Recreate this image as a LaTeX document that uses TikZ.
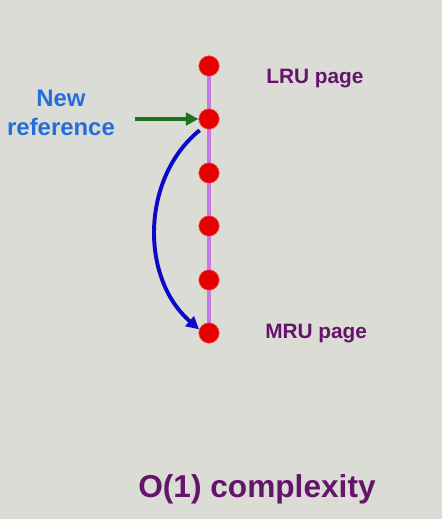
\documentclass[tikz,border=0pt]{standalone}
\usepackage{fontspec}
\setmainfont{Liberation Sans}
\usepackage{tikz}
\usetikzlibrary{arrows.meta, backgrounds}
\definecolor{SlideGray}{RGB}{220,220,215}
\definecolor{PageRed}{RGB}{230,0,0}
\definecolor{ListViolet}{RGB}{195,125,225}
\definecolor{RefBlue}{RGB}{35,110,220}
\definecolor{TagPurple}{RGB}{100,20,105}
\definecolor{MoveGreen}{RGB}{30,115,30}
\definecolor{MoveBlue}{RGB}{10,10,200}

\begin{document}
\begin{tikzpicture}[x=0.025cm, y=-0.025cm,
          page/.style={circle, fill=PageRed, draw=PageRed!60, line width=0.4pt,
                       minimum size=14.6pt, inner sep=0pt},
          tag/.style={font=\fontsize{14.8}{17}\selectfont\bfseries, text=TagPurple,
                      anchor=west, inner sep=0pt},
          arr/.style={-{Triangle[length=9pt, width=9pt]}, line width=2.8pt}
        ]
        \useasboundingbox (0,0) rectangle (442,519);
        \begin{scope}[on background layer]
          \fill[SlideGray] (0,0) rectangle (442,519);
        \end{scope}

        % pages in the list
        \foreach \n/\y in {1/66, 2/119, 3/173, 4/226, 5/280, 6/333} {
          \node[page] (p\n) at (209,\y) {};
        }
        \begin{scope}[on background layer]
          \draw[ListViolet, line width=2.2pt] (p1.center) -- (p6.center);
        \end{scope}

        \node[tag] (lru) at (266,79) {LRU page};
        \node[tag] (mru) at (265,334) {MRU page};

        % new reference
        \node[font=\fontsize{17}{20.6}\selectfont\bfseries, text=RefBlue, align=center]
              (newref) at (61,113) {New\\reference};
        \coordinate (gstart) at (135,119);
        \draw[arr, MoveGreen] (gstart) -- (p2.west);
        \draw[arr, MoveBlue, shorten <=3pt] (p2.235) to[bend right=50] (p6.160);

        \node[font=\fontsize{22.5}{27}\selectfont\bfseries, text=TagPurple]
              (cost) at (257,489) {O(1) complexity};
      \end{tikzpicture}
\end{document}
